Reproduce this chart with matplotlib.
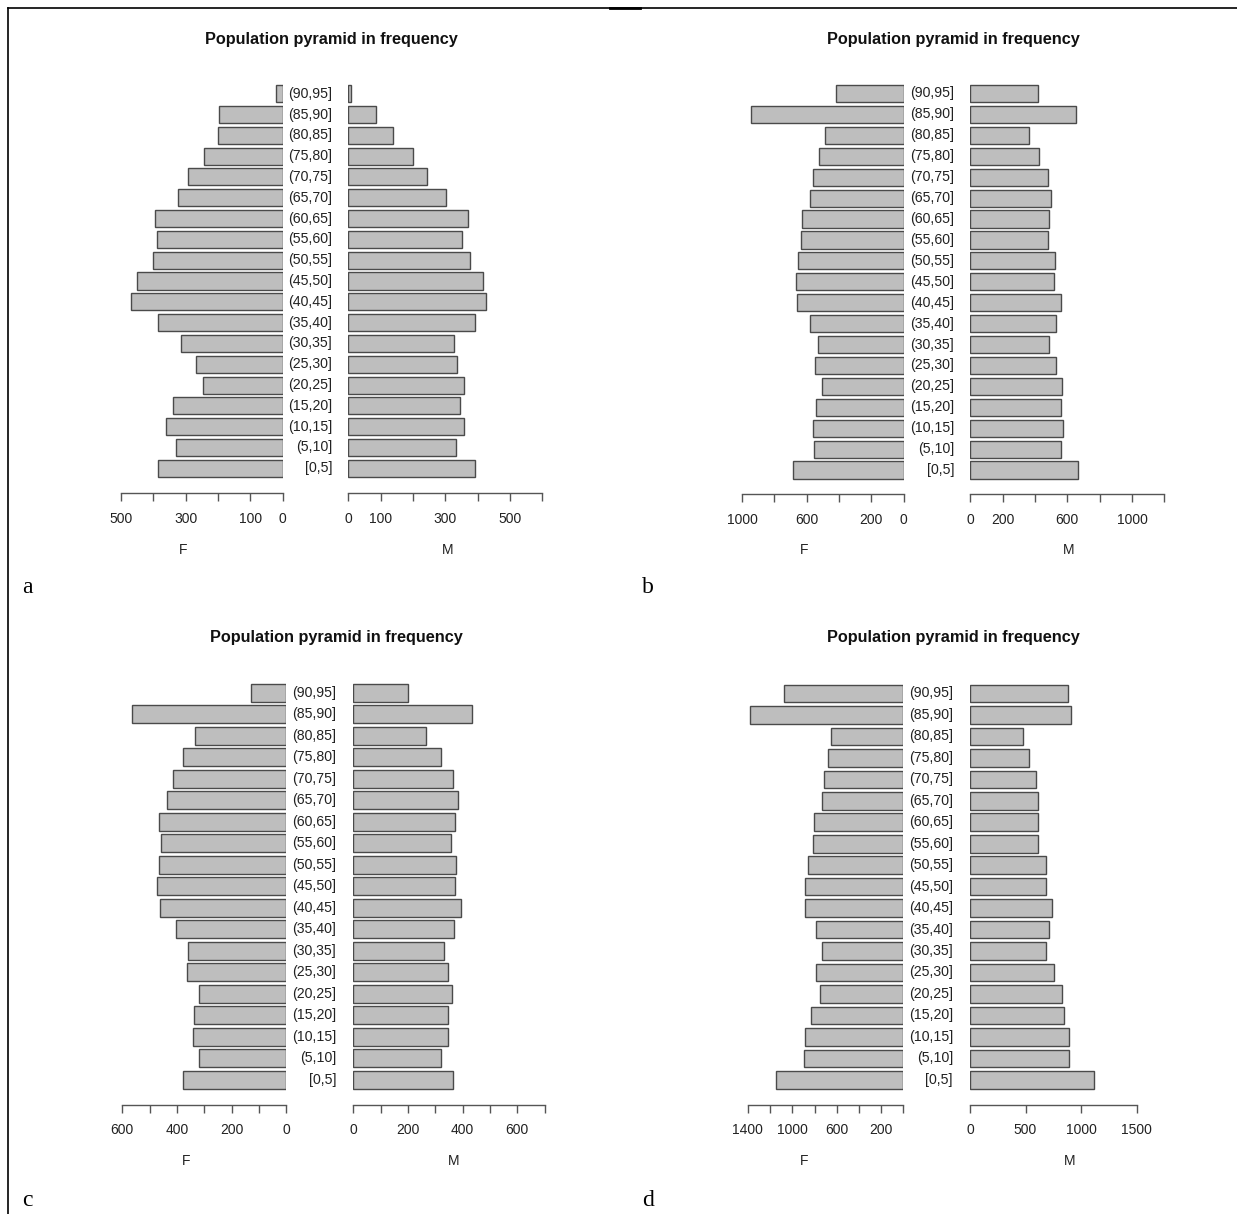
import matplotlib
matplotlib.use("Agg")
import matplotlib.pyplot as plt
from matplotlib.lines import Line2D

W, H = 1237, 1214

# age groups, bottom to top
ages = ["[0,5]", "(5,10]", "(10,15]", "(15,20]", "(20,25]", "(25,30]", "(30,35]",
        "(35,40]", "(40,45]", "(45,50]", "(50,55]", "(55,60]", "(60,65]", "(65,70]",
        "(70,75]", "(75,80]", "(80,85]", "(85,90]", "(90,95]"]

fem_a = [386, 331, 362, 339, 246, 269, 314, 385, 471, 450, 400, 388, 394, 323, 292, 243, 201, 196, 22]
mal_a = [393, 334, 359, 347, 359, 336, 328, 391, 425, 416, 376, 352, 370, 301, 245, 199, 137, 87, 7]

fem_b = [683, 553, 563, 540, 503, 549, 528, 578, 660, 668, 656, 635, 629, 579, 563, 522, 487, 942, 417]
mal_b = [664, 559, 575, 563, 569, 528, 489, 528, 559, 519, 524, 482, 489, 497, 479, 427, 365, 652, 421]

fem_c = [378, 321, 341, 337, 321, 362, 360, 402, 463, 473, 465, 457, 465, 437, 416, 378, 333, 563, 128]
mal_c = [366, 322, 345, 348, 362, 348, 333, 370, 393, 373, 377, 359, 373, 383, 365, 320, 267, 435, 201]

fem_d = [1147, 894, 882, 831, 750, 789, 732, 786, 882, 885, 861, 816, 804, 732, 714, 678, 653, 1382, 1075]
mal_d = [1120, 896, 889, 851, 829, 755, 683, 713, 737, 683, 683, 614, 614, 614, 593, 533, 479, 910, 883]

# axis ticks and the labels R kept
lticks_a = [0, 100, 200, 300, 400, 500]
llabs_a = ["0", "100", "", "300", "", "500"]
rticks_a = [0, 100, 200, 300, 400, 500, 600]
rlabs_a = ["0", "100", "", "300", "", "500", ""]

lticks_b = [0, 200, 400, 600, 800, 1000]
llabs_b = ["0", "200", "", "600", "", "1000"]
rticks_b = [0, 200, 400, 600, 800, 1000, 1200]
rlabs_b = ["0", "200", "", "600", "", "1000", ""]

lticks_c = [0, 100, 200, 300, 400, 500, 600]
llabs_c = ["0", "", "200", "", "400", "", "600"]
rticks_c = [0, 100, 200, 300, 400, 500, 600, 700]
rlabs_c = ["0", "", "200", "", "400", "", "600", ""]

lticks_d = [0, 200, 400, 600, 800, 1000, 1200, 1400]
llabs_d = ["", "200", "", "600", "", "1000", "", "1400"]
rticks_d = [0, 500, 1000, 1500]
rlabs_d = ["0", "500", "1000", "1500"]

title = "Population pyramid in frequency"
letters = ["a", "b", "c", "d"]

fill = "#bebebe"
edge = "#4a4a4a"
axcol = "#555555"
txtcol = "#222222"

plt.rcParams["font.family"] = ["Liberation Sans", "DejaVu Sans"]

fig = plt.figure(figsize=(W / 100, H / 100), dpi=100)


def fx(px):
    return px / W


def fy(py):
    return 1 - py / H


# pixel layout of each panel
panels = [
    dict(fem=fem_a, mal=mal_a, lt=lticks_a, ll=llabs_a, rt=rticks_a, rl=rlabs_a,
         lz=282.7, rz=348.3, sc=0.323, top=93.7, sp=20.81, axy=493,
         labx=332, fx_=183, mx=448, ty=39.5, tx=331, let=(22, 588)),
    dict(fem=fem_b, mal=mal_b, lt=lticks_b, ll=llabs_b, rt=rticks_b, rl=rlabs_b,
         lz=903.7, rz=970.3, sc=0.1617, top=93.5, sp=20.92, axy=494,
         labx=954, fx_=804, mx=1069, ty=39.5, tx=953, let=(642, 588)),
    dict(fem=fem_c, mal=mal_c, lt=lticks_c, ll=llabs_c, rt=rticks_c, rl=rlabs_c,
         lz=286.3, rz=353.3, sc=0.2733, top=692.8, sp=21.5, axy=1104.5,
         labx=336, fx_=186, mx=454, ty=637.5, tx=336, let=(22, 1200)),
    dict(fem=fem_d, mal=mal_d, lt=lticks_d, ll=llabs_d, rt=rticks_d, rl=rlabs_d,
         lz=903.3, rz=970.0, sc=0.1110, top=693.5, sp=21.46, axy=1104.5,
         labx=953, fx_=804, mx=1070, ty=637.5, tx=953, let=(642, 1200)),
]

n = len(ages)
pos = list(range(n))

for k, p in enumerate(panels):
    bottom_c = p["top"] + (n - 1) * p["sp"]
    top_px = p["top"] - 1.2 * p["sp"]
    ylo = -(p["axy"] - bottom_c) / p["sp"]
    yhi = (n - 1) + 1.2
    hgt = (p["axy"] - top_px) / H

    lmax = max(p["lt"])
    rmax = max(p["rt"])
    x0 = p["lz"] - lmax * p["sc"]
    axl = fig.add_axes([fx(x0), fy(p["axy"]), (lmax * p["sc"]) / W, hgt])
    axr = fig.add_axes([fx(p["rz"]), fy(p["axy"]), (rmax * p["sc"]) / W, hgt])

    axl.barh(pos, p["fem"], height=0.82, color=fill, edgecolor=edge, linewidth=1)
    axr.barh(pos, p["mal"], height=0.82, color=fill, edgecolor=edge, linewidth=1)
    axl.set_xlim(lmax, 0)
    axr.set_xlim(0, rmax)

    for ax, ticks, labs in [(axl, p["lt"], p["ll"]), (axr, p["rt"], p["rl"])]:
        ax.set_ylim(ylo, yhi)
        ax.set_xticks(ticks)
        ax.set_xticklabels(labs)
        ax.set_yticks([])
        for s in ["top", "left", "right"]:
            ax.spines[s].set_visible(False)
        ax.spines["bottom"].set_color(axcol)
        ax.spines["bottom"].set_linewidth(1)
        ax.tick_params(axis="x", direction="out", length=6, width=1, color=axcol,
                       labelsize=10, labelcolor=txtcol, pad=7.5)
        ax.patch.set_alpha(0)

    for i, lab in enumerate(ages):
        yc = p["top"] + (n - 1 - i) * p["sp"]
        fig.text(fx(p["labx"]), fy(yc), lab, ha="right", va="center",
                 fontsize=10.2, color=txtcol)

    fig.text(fx(p["fx_"]), fy(p["axy"] + 56.5), "F", ha="center", va="center",
             fontsize=10, color=txtcol)
    fig.text(fx(p["mx"]), fy(p["axy"] + 56.5), "M", ha="center", va="center",
             fontsize=10, color=txtcol)
    fig.text(fx(p["tx"]), fy(p["ty"]), title, ha="center", va="center",
             fontsize=11.7, fontweight="bold", color="#111111")
    fig.text(fx(p["let"][0]), fy(p["let"][1]), letters[k], ha="left", va="center",
             fontsize=17, family="Liberation Serif", color="black")

# table borders
fig.add_artist(Line2D([fx(8), fx(W)], [fy(8), fy(8)], color="black", linewidth=1.2))
fig.add_artist(Line2D([fx(610), fx(640)], [fy(8), fy(8)], color="black", linewidth=2))
fig.add_artist(Line2D([fx(8), fx(8)], [fy(8), fy(H)], color="black", linewidth=1.2))

fig.savefig("out.png", dpi=100)
